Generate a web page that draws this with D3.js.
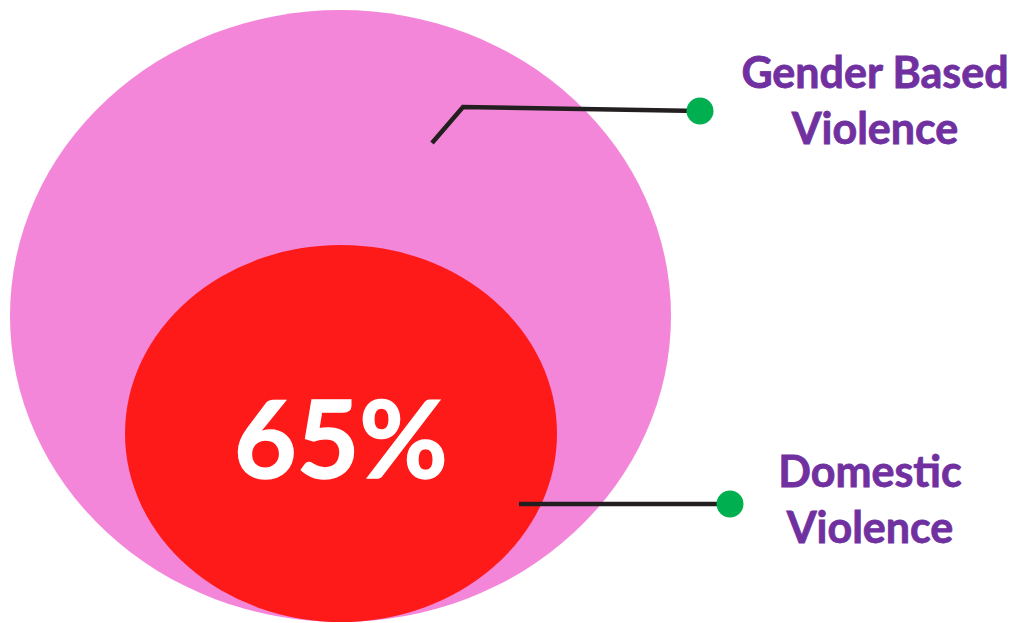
<!DOCTYPE html>
<html>
<head>
<meta charset="utf-8">
<script src="https://cdn.jsdelivr.net/npm/d3@7"></script>
<style>
  html, body { margin: 0; padding: 0; background: #fff; }
  svg { display: block; }
</style>
</head>
<body>
<svg id="chart"></svg>
<script>
// data
const setNames = ["Gender Based Violence", "Domestic Violence"];
const setLabelLines = [["Gender Based", "Violence"], ["Domestic", "Violence"]];
const setColors = ["#f386d8", "#ff1a1a"];
const innerShare = [65];

const width = 1020, height = 623;

// layout of the two nested ellipses (outer, inner)
const shapes = [
  { cx: 340.5, cy: 316, rx: 330.5, ry: 306 },
  { cx: 341, cy: 433.5, rx: 216, ry: 188.5 }
];
// leader lines: [start, elbow..., dot]
const leaders = [
  [[432, 143], [463, 107], [700, 111]],
  [[519, 504], [730, 504]]
];
const labelPos = [{ x: 875, y: 88 }, { x: 870, y: 487 }];

const svg = d3.select("#chart")
  .attr("width", width)
  .attr("height", height)
  .attr("viewBox", [0, 0, width, height]);

const data = setNames.map((name, i) => ({
  name,
  lines: setLabelLines[i],
  color: setColors[i],
  shape: shapes[i],
  leader: leaders[i],
  label: labelPos[i]
}));

svg.append("g")
  .selectAll("ellipse")
  .data(data)
  .join("ellipse")
    .attr("cx", d => d.shape.cx)
    .attr("cy", d => d.shape.cy)
    .attr("rx", d => d.shape.rx)
    .attr("ry", d => d.shape.ry)
    .attr("fill", d => d.color);

// percentage in the inner set
svg.append("text")
  .attr("x", shapes[1].cx)
  .attr("y", 478)
  .attr("text-anchor", "middle")
  .attr("font-family", "Lato, 'Open Sans', sans-serif")
  .attr("font-weight", 700)
  .attr("font-size", 108)
  .attr("fill", "#fff")
  .attr("stroke", "#fff")
  .attr("stroke-width", 1.5)
  .text(d3.format(".0f")(innerShare[0]) + "%");

const line = d3.line();

const lead = svg.append("g")
  .selectAll("g")
  .data(data)
  .join("g");

lead.append("path")
  .attr("d", d => line(d.leader))
  .attr("fill", "none")
  .attr("stroke", "#231f20")
  .attr("stroke-width", 4.5);

lead.append("circle")
  .attr("cx", d => d.leader[d.leader.length - 1][0])
  .attr("cy", d => d.leader[d.leader.length - 1][1])
  .attr("r", 13.5)
  .attr("fill", "#00b050");

const labels = svg.append("g")
  .selectAll("text")
  .data(data)
  .join("text")
    .attr("x", d => d.label.x)
    .attr("y", d => d.label.y)
    .attr("text-anchor", "middle")
    .attr("font-family", "Lato, 'Open Sans', sans-serif")
    .attr("font-weight", 700)
    .attr("font-size", 43)
    .attr("fill", "#7030a0")
    .attr("stroke", "#7030a0")
    .attr("stroke-width", 0.8);

labels.selectAll("tspan")
  .data(d => d.lines.map(t => ({ t, x: d.label.x })))
  .join("tspan")
    .attr("x", d => d.x)
    .attr("dy", (d, i) => i === 0 ? 0 : 55.5)
    .text(d => d.t);
</script>
</body>
</html>
